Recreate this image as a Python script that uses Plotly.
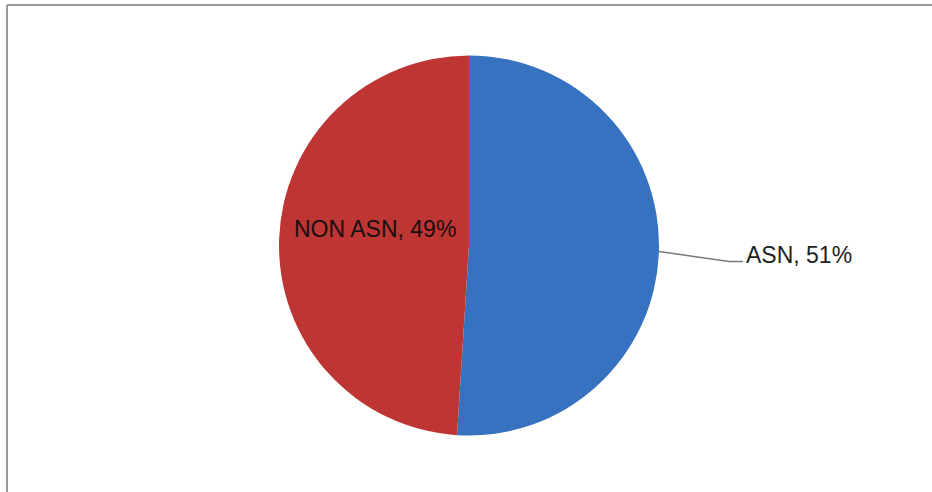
import math
import plotly.graph_objects as go

labels = ["ASN", "NON ASN"]
values = [51, 49]
colors = ["#3672bf", "#bd3634"]

W, H = 932, 492
cx, cy, r = 469, 245.5, 190  # pie centre / radius in pixels

fig = go.Figure(go.Pie(
    labels=labels, values=values, sort=False, direction="clockwise",
    rotation=0, textinfo="none", hoverinfo="label+percent",
    marker=dict(colors=colors, line=dict(width=0)),
    domain=dict(x=[(cx - r) / W, (cx + r) / W], y=[1 - (cy + r) / H, 1 - (cy - r) / H]),
    showlegend=False,
))

def px(x):
    return x / W

def py(y):
    return 1 - y / H

total = sum(values)
# ASN label: outside with leader line from mid-angle of slice
mid = values[0] / total / 2 * 2 * math.pi
ex, ey = cx + r * math.sin(mid), cy - r * math.cos(mid)
kx, ky = ex + 70, ey + 10
tx = kx + 14
fig.add_shape(type="path", xref="paper", yref="paper",
              path=f"M {px(ex)} {py(ey)} L {px(kx)} {py(ky)} L {px(tx)} {py(ky)}",
              line=dict(color="#7a7a7a", width=1.5))
fig.add_annotation(xref="paper", yref="paper", x=px(tx + 1), y=py(ky - 6),
                   text=f"{labels[0]}, {round(values[0] / total * 100)}%",
                   showarrow=False, xanchor="left", yanchor="middle",
                   font=dict(family="Liberation Sans, Arial", size=23, color="#222222"))
# NON ASN label: inside the slice
fig.add_annotation(xref="paper", yref="paper", x=px(375), y=py(229),
                   text=f"{labels[1]}, {round(values[1] / total * 100)}%",
                   showarrow=False, xanchor="center", yanchor="middle",
                   font=dict(family="Liberation Sans, Arial", size=23, color="#1a0e0e"))

# chart frame (only top and left edges visible)
frame = dict(color="#9a9a9a", width=2)
fig.add_shape(type="line", xref="paper", yref="paper",
              x0=px(7), y0=py(5), x1=1.0, y1=py(5), line=frame, layer="below")
fig.add_shape(type="line", xref="paper", yref="paper",
              x0=px(7), y0=py(5), x1=px(7), y1=0.0, line=frame, layer="below")

fig.update_layout(width=W, height=H, margin=dict(l=0, r=0, t=0, b=0),
                  paper_bgcolor="white", plot_bgcolor="white")
fig.write_html("out.html", config={"displayModeBar": False},
               post_script="document.body.style.margin='0';document.body.style.overflow='hidden';")
